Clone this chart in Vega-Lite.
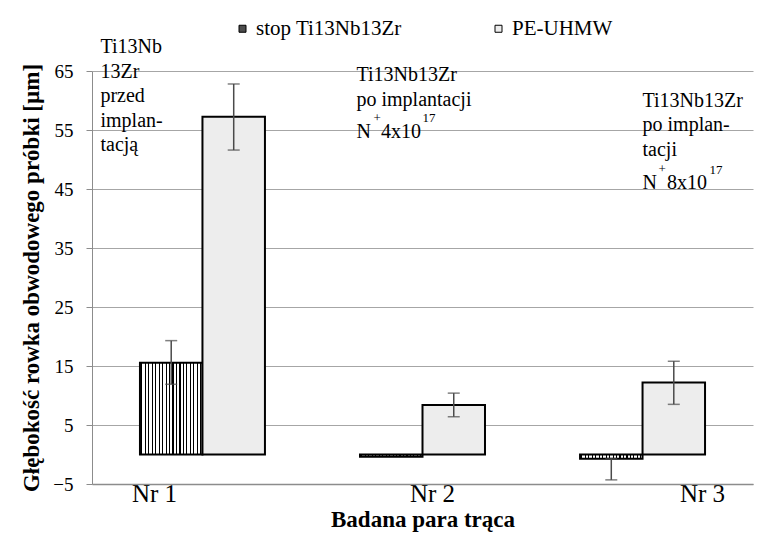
{
  "$schema": "https://vega.github.io/schema/vega-lite/v6.json",
  "width": 661,
  "height": 413,
  "autosize": {"type": "none"},
  "padding": {"left": 92, "top": 71, "right": 16, "bottom": 61},
  "background": "white",
  "config": {
    "font": "'Liberation Serif', 'Times New Roman', Tinos, serif",
    "view": {"stroke": null},
    "text": {"font": "'Liberation Serif', 'Times New Roman', Tinos, serif"},
    "axis": {"labelColor": "#000", "titleColor": "#000", "domainColor": "#8c8c8c", "tickColor": "#8c8c8c", "gridColor": "#a6a6a6", "labelFont": "'Liberation Serif', 'Times New Roman', Tinos, serif", "titleFont": "'Liberation Serif', 'Times New Roman', Tinos, serif"},
    "legend": {"labelFont": "'Liberation Serif', 'Times New Roman', Tinos, serif"},
    "axisY": {"grid": true, "tickSize": 6, "labelFontSize": 19, "labelPadding": 13, "titleFontSize": 23, "titleFontWeight": "bold", "titlePadding": 9},
    "axisX": {"grid": false}
  },
  "datasets": {
    "bars": [
      {"cat": "Nr 1", "series": "stop Ti13Nb13Zr", "value": 15.56, "lo": 11.9, "hi": 19.3},
      {"cat": "Nr 1", "series": "PE-UHMW", "value": 57.25, "lo": 51.6, "hi": 62.8},
      {"cat": "Nr 2", "series": "stop Ti13Nb13Zr", "value": -0.4, "lo": null, "hi": null},
      {"cat": "Nr 2", "series": "PE-UHMW", "value": 8.4, "lo": 6.4, "hi": 10.4},
      {"cat": "Nr 3", "series": "stop Ti13Nb13Zr", "value": -0.7, "lo": -4.3, "hi": -0.7},
      {"cat": "Nr 3", "series": "PE-UHMW", "value": 12.2, "lo": 8.5, "hi": 15.8}
    ],
    "notes": [
      {"id": "a1", "cat": "Nr 1", "value": 68.0, "label": "Ti13Nb\n13Zr\nprzed\nimplan-\ntacją"},
      {"id": "a2m", "cat": "Nr 2", "value": 63.36, "label": "Ti13Nb13Zr\npo implantacji"},
      {"id": "a2N", "cat": "Nr 2", "value": 53.64, "label": "N\u00a0 4x10"},
      {"id": "a2p", "cat": "Nr 2", "value": 56.4, "label": "+"},
      {"id": "a2s", "cat": "Nr 2", "value": 56.4, "label": "17"},
      {"id": "a3m", "cat": "Nr 3", "value": 58.9, "label": "Ti13Nb13Zr\npo implan-\ntacji"},
      {"id": "a3N", "cat": "Nr 3", "value": 45.0, "label": "N\u00a0 8x10"},
      {"id": "a3p", "cat": "Nr 3", "value": 47.7, "label": "+"},
      {"id": "a3s", "cat": "Nr 3", "value": 47.5, "label": "17"}
    ]
  },
  "encoding": {
    "x": {
      "field": "cat",
      "type": "nominal",
      "title": "Badana para trąca",
      "scale": {"domain": ["Nr 1", "Nr 2", "Nr 3"], "paddingInner": 0.432, "paddingOuter": 0.218, "align": 0.5},
      "axis": {
        "labelAngle": 0,
        "ticks": false,
        "labelFontSize": 25,
        "labelPadding": -3,
        "labelOffset": {"condition": [{"test": "datum.value === 'Nr 1'", "value": -48}, {"test": "datum.value === 'Nr 3'", "value": 60}], "value": 10},
        "titleFontSize": 23,
        "titleFontWeight": "bold",
        "titlePadding": 2,
        "domainWidth": 1.5
      }
    }
  },
  "layer": [
    {
      "data": {"name": "bars"},
      "mark": {"type": "bar", "stroke": "#000", "strokeWidth": 2},
      "encoding": {
        "y": {"field": "value", "type": "quantitative", "title": "Głębokość rowka obwodowego próbki [µm]", "scale": {"domain": [-5, 65], "nice": false}, "axis": {"values": [-5, 5, 15, 25, 35, 45, 55, 65]}},
        "y2": {"datum": 0},
        "xOffset": {"field": "series", "type": "nominal", "scale": {"domain": ["stop Ti13Nb13Zr", "PE-UHMW"], "paddingInner": 0, "paddingOuter": 0}},
        "fill": {
          "condition": {
            "test": "datum.series === 'stop Ti13Nb13Zr'",
            "value": {
              "gradient": "linear", "x1": 0, "y1": 0, "x2": 1, "y2": 0,
              "stops": [
                {"offset": 0, "color": "#ffffff"},
                {"offset": 0.02, "color": "#ffffff"}, {"offset": 0.02, "color": "#000000"}, {"offset": 0.038, "color": "#000000"}, {"offset": 0.038, "color": "#ffffff"},
                {"offset": 0.0756, "color": "#ffffff"}, {"offset": 0.0756, "color": "#000000"}, {"offset": 0.0936, "color": "#000000"}, {"offset": 0.0936, "color": "#ffffff"},
                {"offset": 0.1311, "color": "#ffffff"}, {"offset": 0.1311, "color": "#000000"}, {"offset": 0.1491, "color": "#000000"}, {"offset": 0.1491, "color": "#ffffff"},
                {"offset": 0.1867, "color": "#ffffff"}, {"offset": 0.1867, "color": "#000000"}, {"offset": 0.2047, "color": "#000000"}, {"offset": 0.2047, "color": "#ffffff"},
                {"offset": 0.2422, "color": "#ffffff"}, {"offset": 0.2422, "color": "#000000"}, {"offset": 0.2602, "color": "#000000"}, {"offset": 0.2602, "color": "#ffffff"},
                {"offset": 0.2978, "color": "#ffffff"}, {"offset": 0.2978, "color": "#000000"}, {"offset": 0.3158, "color": "#000000"}, {"offset": 0.3158, "color": "#ffffff"},
                {"offset": 0.3533, "color": "#ffffff"}, {"offset": 0.3533, "color": "#000000"}, {"offset": 0.3713, "color": "#000000"}, {"offset": 0.3713, "color": "#ffffff"},
                {"offset": 0.4089, "color": "#ffffff"}, {"offset": 0.4089, "color": "#000000"}, {"offset": 0.4269, "color": "#000000"}, {"offset": 0.4269, "color": "#ffffff"},
                {"offset": 0.4644, "color": "#ffffff"}, {"offset": 0.4644, "color": "#000000"}, {"offset": 0.4824, "color": "#000000"}, {"offset": 0.4824, "color": "#ffffff"},
                {"offset": 0.52, "color": "#ffffff"}, {"offset": 0.52, "color": "#000000"}, {"offset": 0.538, "color": "#000000"}, {"offset": 0.538, "color": "#ffffff"},
                {"offset": 0.5756, "color": "#ffffff"}, {"offset": 0.5756, "color": "#000000"}, {"offset": 0.5936, "color": "#000000"}, {"offset": 0.5936, "color": "#ffffff"},
                {"offset": 0.6311, "color": "#ffffff"}, {"offset": 0.6311, "color": "#000000"}, {"offset": 0.6491, "color": "#000000"}, {"offset": 0.6491, "color": "#ffffff"},
                {"offset": 0.6867, "color": "#ffffff"}, {"offset": 0.6867, "color": "#000000"}, {"offset": 0.7047, "color": "#000000"}, {"offset": 0.7047, "color": "#ffffff"},
                {"offset": 0.7422, "color": "#ffffff"}, {"offset": 0.7422, "color": "#000000"}, {"offset": 0.7602, "color": "#000000"}, {"offset": 0.7602, "color": "#ffffff"},
                {"offset": 0.7978, "color": "#ffffff"}, {"offset": 0.7978, "color": "#000000"}, {"offset": 0.8158, "color": "#000000"}, {"offset": 0.8158, "color": "#ffffff"},
                {"offset": 0.8533, "color": "#ffffff"}, {"offset": 0.8533, "color": "#000000"}, {"offset": 0.8713, "color": "#000000"}, {"offset": 0.8713, "color": "#ffffff"},
                {"offset": 0.9089, "color": "#ffffff"}, {"offset": 0.9089, "color": "#000000"}, {"offset": 0.9269, "color": "#000000"}, {"offset": 0.9269, "color": "#ffffff"},
                {"offset": 0.9644, "color": "#ffffff"}, {"offset": 0.9644, "color": "#000000"}, {"offset": 0.9824, "color": "#000000"}, {"offset": 0.9824, "color": "#ffffff"},
                {"offset": 1, "color": "#ffffff"}
              ]
            }
          },
          "field": "series",
          "type": "nominal",
          "scale": {"domain": ["stop Ti13Nb13Zr", "PE-UHMW"], "range": ["#4d4d4d", "#ededed"]},
          "legend": {
            "orient": "none", "legendX": 140, "legendY": -53, "direction": "horizontal", "title": null,
            "labelFontSize": 21, "labelColor": "#000", "symbolType": "square", "symbolSize": 49,
            "symbolStrokeColor": "#000", "symbolStrokeWidth": 1, "labelOffset": 3, "columnPadding": 86, "padding": 0
          }
        }
      }
    },
    {
      "data": {"name": "bars"},
      "transform": [{"filter": "datum.lo != null"}],
      "mark": {"type": "rule", "color": "#4a4a4a", "strokeWidth": 1.5},
      "encoding": {
        "y": {"field": "lo", "type": "quantitative", "title": "Głębokość rowka obwodowego próbki [µm]", "axis": {"values": [-5, 5, 15, 25, 35, 45, 55, 65]}},
        "y2": {"field": "hi"},
        "xOffset": {"field": "series", "type": "nominal"}
      }
    },
    {
      "data": {"name": "bars"},
      "transform": [{"filter": "datum.lo != null"}],
      "mark": {"type": "tick", "color": "#4a4a4a", "thickness": 1.5, "size": 12},
      "encoding": {
        "y": {"field": "lo", "type": "quantitative", "title": "Głębokość rowka obwodowego próbki [µm]", "axis": {"values": [-5, 5, 15, 25, 35, 45, 55, 65]}},
        "xOffset": {"field": "series", "type": "nominal"}
      }
    },
    {
      "data": {"name": "bars"},
      "transform": [{"filter": "datum.hi != null"}],
      "mark": {"type": "tick", "color": "#4a4a4a", "thickness": 1.5, "size": 12},
      "encoding": {
        "y": {"field": "hi", "type": "quantitative", "title": "Głębokość rowka obwodowego próbki [µm]", "axis": {"values": [-5, 5, 15, 25, 35, 45, 55, 65]}},
        "xOffset": {"field": "series", "type": "nominal"}
      }
    },
    {
      "data": {"name": "notes"},
      "transform": [{"filter": "datum.id === 'a1'"}],
      "mark": {"type": "text", "align": "left", "baseline": "alphabetic", "dx": -102, "fontSize": 20, "lineBreak": "\n", "lineHeight": 24.5, "color": "#000"},
      "encoding": {
        "y": {"field": "value", "type": "quantitative", "title": "Głębokość rowka obwodowego próbki [µm]", "axis": {"values": [-5, 5, 15, 25, 35, 45, 55, 65]}},
        "text": {"field": "label"}
      }
    },
    {
      "data": {"name": "notes"},
      "transform": [{"filter": "datum.id === 'a2m' || datum.id === 'a2N'"}],
      "mark": {"type": "text", "align": "left", "baseline": "alphabetic", "dx": -66, "fontSize": 20, "lineBreak": "\n", "lineHeight": 25.5, "color": "#000"},
      "encoding": {
        "y": {"field": "value", "type": "quantitative", "title": "Głębokość rowka obwodowego próbki [µm]", "axis": {"values": [-5, 5, 15, 25, 35, 45, 55, 65]}},
        "text": {"field": "label"}
      }
    },
    {
      "data": {"name": "notes"},
      "transform": [{"filter": "datum.id === 'a3m' || datum.id === 'a3N'"}],
      "mark": {"type": "text", "align": "left", "baseline": "alphabetic", "dx": 0, "fontSize": 20, "lineBreak": "\n", "lineHeight": 24.5, "color": "#000"},
      "encoding": {
        "y": {"field": "value", "type": "quantitative", "title": "Głębokość rowka obwodowego próbki [µm]", "axis": {"values": [-5, 5, 15, 25, 35, 45, 55, 65]}},
        "text": {"field": "label"}
      }
    },
    {
      "data": {"name": "notes"},
      "transform": [{"filter": "datum.id === 'a2p'"}],
      "mark": {"type": "text", "align": "left", "baseline": "alphabetic", "dx": -49, "fontSize": 13, "color": "#000"},
      "encoding": {
        "y": {"field": "value", "type": "quantitative", "title": "Głębokość rowka obwodowego próbki [µm]", "axis": {"values": [-5, 5, 15, 25, 35, 45, 55, 65]}},
        "text": {"field": "label"}
      }
    },
    {
      "data": {"name": "notes"},
      "transform": [{"filter": "datum.id === 'a2s'"}],
      "mark": {"type": "text", "align": "left", "baseline": "alphabetic", "dx": 0, "fontSize": 13, "color": "#000"},
      "encoding": {
        "y": {"field": "value", "type": "quantitative", "title": "Głębokość rowka obwodowego próbki [µm]", "axis": {"values": [-5, 5, 15, 25, 35, 45, 55, 65]}},
        "text": {"field": "label"}
      }
    },
    {
      "data": {"name": "notes"},
      "transform": [{"filter": "datum.id === 'a3p'"}],
      "mark": {"type": "text", "align": "left", "baseline": "alphabetic", "dx": 16, "fontSize": 13, "color": "#000"},
      "encoding": {
        "y": {"field": "value", "type": "quantitative", "title": "Głębokość rowka obwodowego próbki [µm]", "axis": {"values": [-5, 5, 15, 25, 35, 45, 55, 65]}},
        "text": {"field": "label"}
      }
    },
    {
      "data": {"name": "notes"},
      "transform": [{"filter": "datum.id === 'a3s'"}],
      "mark": {"type": "text", "align": "left", "baseline": "alphabetic", "dx": 67, "fontSize": 13, "color": "#000"},
      "encoding": {
        "y": {"field": "value", "type": "quantitative", "title": "Głębokość rowka obwodowego próbki [µm]", "axis": {"values": [-5, 5, 15, 25, 35, 45, 55, 65]}},
        "text": {"field": "label"}
      }
    }
  ]
}
